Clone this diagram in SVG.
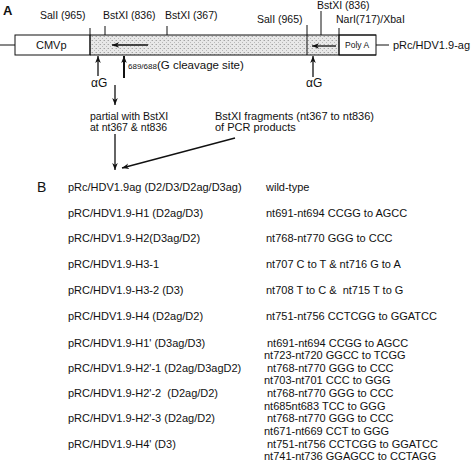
<svg xmlns="http://www.w3.org/2000/svg" width="472" height="462" viewBox="0 0 472 462">
<style>
text{font-family:"Liberation Sans",Arial,sans-serif;fill:#111}
.t{font-size:11px}
.s{font-size:10.5px}
.ln{stroke:#111;stroke-width:1;fill:none}
.ar{stroke:#111;stroke-width:1.3;fill:none}
</style>
<defs>
<pattern id="stip" width="4" height="4" patternUnits="userSpaceOnUse">
<rect width="4" height="4" fill="#e8e8e8"/>
<rect x="0" y="0" width="1" height="1" fill="#a4a4a4"/>
<rect x="2" y="2" width="1" height="1" fill="#b8b8b8"/>
<rect x="3" y="0" width="1" height="1" fill="#cccccc"/>
</pattern>
<marker id="ah" viewBox="0 0 10 10" refX="10" refY="5" markerWidth="7" markerHeight="7" orient="auto" markerUnits="userSpaceOnUse">
<path d="M0,1 L10,5 L0,9 L3,5 Z" fill="#111"/>
</marker>
</defs>
<text x="3" y="15" style="font-size:13px;font-weight:bold">A</text>
<g id="construct">
<line class="ln" x1="0" y1="45" x2="15" y2="45"/>
<rect x="90" y="35" width="249" height="20" fill="url(#stip)"/>
<rect class="ln" x="15" y="35" width="75" height="20" fill="#fff"/>
<line class="ln" x1="90" y1="35" x2="376" y2="35"/>
<line class="ln" x1="90" y1="55" x2="376" y2="55"/>
<rect class="ln" x="339" y="35" width="37" height="20" fill="#fff"/>
<line class="ln" x1="376" y1="45" x2="389" y2="45"/>
<line class="ln" x1="90" y1="28" x2="90" y2="55"/>
<line class="ln" x1="105" y1="26" x2="105" y2="35"/>
<line class="ln" x1="167" y1="26" x2="167" y2="35"/>
<line class="ln" x1="307" y1="25" x2="307" y2="55"/>
<line class="ln" x1="321" y1="11" x2="321" y2="35"/>
<line class="ln" x1="339" y1="28" x2="339" y2="55"/>
<text class="t" x="36" y="49">CMVp</text>
<text x="345" y="48" style="font-size:8.5px">Poly A</text>
<text class="t" x="393" y="49">pRc/HDV1.9-ag</text>
</g>
<g id="site-labels">
<text class="s" x="40" y="19">SalI (965)</text>
<text class="s" x="103" y="19">BstXI (836)</text>
<text class="s" x="165" y="19">BstXI (367)</text>
<text class="s" x="257" y="23">SalI (965)</text>
<text class="s" x="317" y="9">BstXI (836)</text>
<text class="s" x="336" y="23">NarI(717)/XbaI</text>
<text x="91" y="87" style="font-size:12px">αG</text>
<text x="306" y="87" style="font-size:12px">αG</text>
<text x="128" y="69"><tspan style="font-size:8px">689/688</tspan><tspan style="font-size:11.5px">(G cleavage site)</tspan></text>
</g>
<g id="connectors">
<line class="ar" x1="148" y1="45" x2="112" y2="45" marker-end="url(#ah)"/>
<line class="ar" x1="336" y1="46" x2="312" y2="46" marker-end="url(#ah)"/>
<line class="ar" x1="98" y1="76" x2="98" y2="56" marker-end="url(#ah)"/>
<line x1="124" y1="78" x2="124" y2="56" stroke="#111" stroke-width="2" marker-end="url(#ah)"/>
<line class="ar" x1="313" y1="77" x2="313" y2="56" marker-end="url(#ah)"/>
<line class="ar" x1="115" y1="85" x2="115" y2="105" marker-end="url(#ah)"/>
<line class="ar" x1="115" y1="134" x2="115" y2="170" marker-end="url(#ah)"/>
<line class="ar" x1="235" y1="138" x2="122" y2="168" marker-end="url(#ah)"/>
</g>
<g id="steps">
<text class="s" x="90" y="120">partial with BstXI</text>
<text class="s" x="90" y="131">at nt367 &amp; nt836</text>
<text class="t" x="215" y="120">BstXI fragments (nt367 to nt836)</text>
<text class="t" x="215" y="131">of PCR products</text>
</g>
<text x="37" y="192" style="font-size:14px">B</text>
<g id="table">
<text class="t" x="68" y="191">pRc/HDV1.9ag (D2/D3/D2ag/D3ag)</text>
<text class="t" x="266" y="191">wild-type</text>
<text class="t" x="68" y="217">pRC/HDV1.9-H1 (D2ag/D3)</text>
<text class="t" x="266" y="217">nt691-nt694 CCGG to AGCC</text>
<text class="t" x="68" y="242">pRC/HDV1.9-H2(D3ag/D2)</text>
<text class="t" x="266" y="242">nt768-nt770 GGG to CCC</text>
<text class="t" x="68" y="268">pRC/HDV1.9-H3-1</text>
<text class="t" x="266" y="268">nt707 C to T &amp; nt716 G to A</text>
<text class="t" x="68" y="294">pRC/HDV1.9-H3-2 (D3)</text>
<text class="t" x="266" y="294" xml:space="preserve">nt708 T to C &amp;  nt715 T to G</text>
<text class="t" x="68" y="320">pRC/HDV1.9-H4 (D2ag/D2)</text>
<text class="t" x="266" y="320">nt751-nt756 CCTCGG to GGATCC</text>
<text class="t" x="68" y="347">pRC/HDV1.9-H1' (D3ag/D3)</text>
<text class="t" x="267" y="347">nt691-nt694 CCGG to AGCC</text>
<text class="t" x="264" y="359">nt723-nt720 GGCC to TCGG</text>
<text class="t" x="68" y="372">pRC/HDV1.9-H2'-1 (D2ag/D3agD2)</text>
<text class="t" x="267" y="372">nt768-nt770 GGG to CCC</text>
<text class="t" x="264" y="384">nt703-nt701 CCC to GGG</text>
<text class="t" x="68" y="397" xml:space="preserve">pRC/HDV1.9-H2'-2  (D2ag/D2)</text>
<text class="t" x="267" y="397">nt768-nt770 GGG to CCC</text>
<text class="t" x="264" y="410">nt685nt683 TCC to GGG</text>
<text class="t" x="68" y="422">pRC/HDV1.9-H2'-3 (D2ag/D2)</text>
<text class="t" x="267" y="422">nt768-nt770 GGG to CCC</text>
<text class="t" x="264" y="435">nt671-nt669 CCT to GGG</text>
<text class="t" x="68" y="448">pRC/HDV1.9-H4' (D3)</text>
<text class="t" x="267" y="448">nt751-nt756 CCTCGG to GGATCC</text>
<text class="t" x="264" y="460">nt741-nt736 GGAGCC to CCTAGG</text>
</g>
</svg>
